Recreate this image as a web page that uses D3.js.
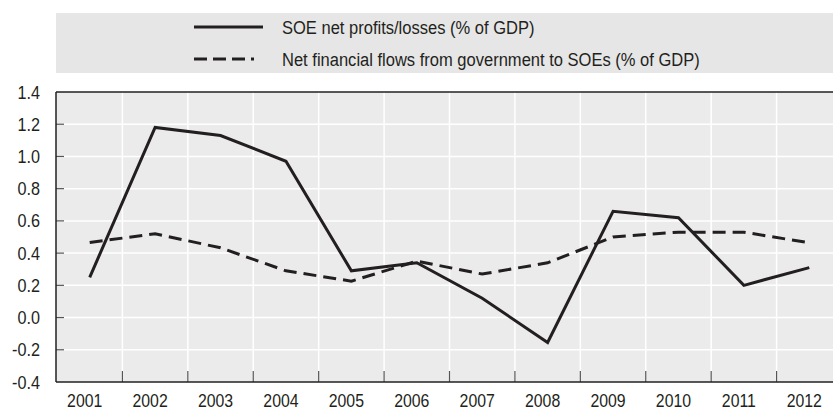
<!DOCTYPE html>
<html>
<head>
<meta charset="utf-8">
<script src="https://cdn.jsdelivr.net/npm/d3@7"></script>
<style>
  html, body { margin: 0; padding: 0; background: #fff; }
  svg { display: block; }
  text { font-family: "Liberation Sans", Arial, sans-serif; fill: #231f20; }
</style>
</head>
<body>
<script>
const years = ["2001","2002","2003","2004","2005","2006","2007","2008","2009","2010","2011","2012"];
const soeProfits = [0.25, 1.18, 1.13, 0.97, 0.29, 0.34, 0.12, -0.155, 0.66, 0.62, 0.20, 0.31];
const govFlows   = [0.466, 0.52, 0.433, 0.29, 0.226, 0.35, 0.27, 0.34, 0.50, 0.53, 0.53, 0.464];
const yTicks = [-0.4, -0.2, 0.0, 0.2, 0.4, 0.6, 0.8, 1.0, 1.2, 1.4];
const seriesNames = ["SOE net profits/losses (% of GDP)", "Net financial flows from government to SOEs (% of GDP)"];

const W = 833, H = 412;
const plot = { left: 56, top: 92, right: 842, bottom: 382 };
const INK = "#231f20";

const svg = d3.select("body").append("svg").attr("width", W).attr("height", H);

function ctext(parent, tx, ty, str, size, sx, anchor) {
  return parent.append("text")
    .attr("transform", `translate(${tx},${ty}) scale(${sx},1)`)
    .attr("font-size", size)
    .attr("text-anchor", anchor || "start")
    .text(str);
}

// Legend box
svg.append("rect").attr("x", 56).attr("y", 13).attr("width", W - 56).attr("height", 60).attr("fill", "#e6e6e6");

const legendItems = [
  { name: seriesNames[0], dash: null, y: 27 },
  { name: seriesNames[1], dash: "13,6,13,6,13,6,3", y: 59 }
];
legendItems.forEach(d => {
  svg.append("line").attr("x1", 194).attr("x2", 263).attr("y1", d.y).attr("y2", d.y)
    .attr("stroke", INK).attr("stroke-width", 3)
    .attr("stroke-dasharray", d.dash);
  ctext(svg, 282, d.y + 7, d.name, 19, 0.87);
});

const x = d3.scaleBand().domain(years).range([plot.left + 1, plot.right]).padding(0);
const y = d3.scaleLinear().domain([-0.4, 1.4]).range([plot.bottom, plot.top]);

// plot background
svg.append("rect").attr("x", plot.left).attr("y", plot.top)
  .attr("width", plot.right - plot.left).attr("height", plot.bottom - plot.top)
  .attr("fill", "#ebebeb");

// horizontal gridlines
svg.append("g").selectAll("line").data(yTicks.slice(1, -1)).join("line")
  .attr("x1", plot.left).attr("x2", plot.right)
  .attr("y1", d => y(d)).attr("y2", d => y(d))
  .attr("stroke", "#fff").attr("stroke-width", 1.5);

// vertical gridlines at band boundaries
const bounds = years.slice(1).map(d => x(d));
svg.append("g").selectAll("line").data(bounds).join("line")
  .attr("x1", d => d).attr("x2", d => d)
  .attr("y1", plot.top).attr("y2", plot.bottom)
  .attr("stroke", "#fff").attr("stroke-width", 1.5);

// bottom ticks
svg.append("g").selectAll("line").data(bounds).join("line")
  .attr("x1", d => d).attr("x2", d => d)
  .attr("y1", plot.bottom - 11).attr("y2", plot.bottom)
  .attr("stroke", "#555").attr("stroke-width", 1.2);

// left ticks
svg.append("g").selectAll("line").data(yTicks.slice(1, -1)).join("line")
  .attr("x1", plot.left).attr("x2", plot.left + 8)
  .attr("y1", d => y(d)).attr("y2", d => y(d))
  .attr("stroke", "#555").attr("stroke-width", 1.2);

// frame
svg.append("line").attr("x1", plot.left).attr("x2", W).attr("y1", plot.top).attr("y2", plot.top)
  .attr("stroke", INK).attr("stroke-width", 1.5);
svg.append("line").attr("x1", plot.left).attr("x2", W).attr("y1", plot.bottom).attr("y2", plot.bottom)
  .attr("stroke", INK).attr("stroke-width", 1.5);
svg.append("line").attr("x1", plot.left).attr("x2", plot.left).attr("y1", plot.top).attr("y2", plot.bottom)
  .attr("stroke", INK).attr("stroke-width", 1.5);

// y labels
const yl = svg.append("g");
yTicks.forEach(d => ctext(yl, 40, y(d) + 6.5, d3.format(".1f")(d).replace("−", "-"), 18, 0.9, "end"));

// x labels
const xl = svg.append("g");
years.forEach(d => ctext(xl, x(d) + x.bandwidth() / 2 - 5, 407, d, 18, 0.88, "middle"));

const line = d3.line().x((d, i) => x(years[i]) + x.bandwidth() / 2).y(d => y(d));

svg.append("path").datum(govFlows).attr("d", line)
  .attr("fill", "none").attr("stroke", INK).attr("stroke-width", 3)
  .attr("stroke-dasharray", "13,7");
svg.append("path").datum(soeProfits).attr("d", line)
  .attr("fill", "none").attr("stroke", INK).attr("stroke-width", 3)
  .attr("stroke-linejoin", "miter");
</script>
</body>
</html>
